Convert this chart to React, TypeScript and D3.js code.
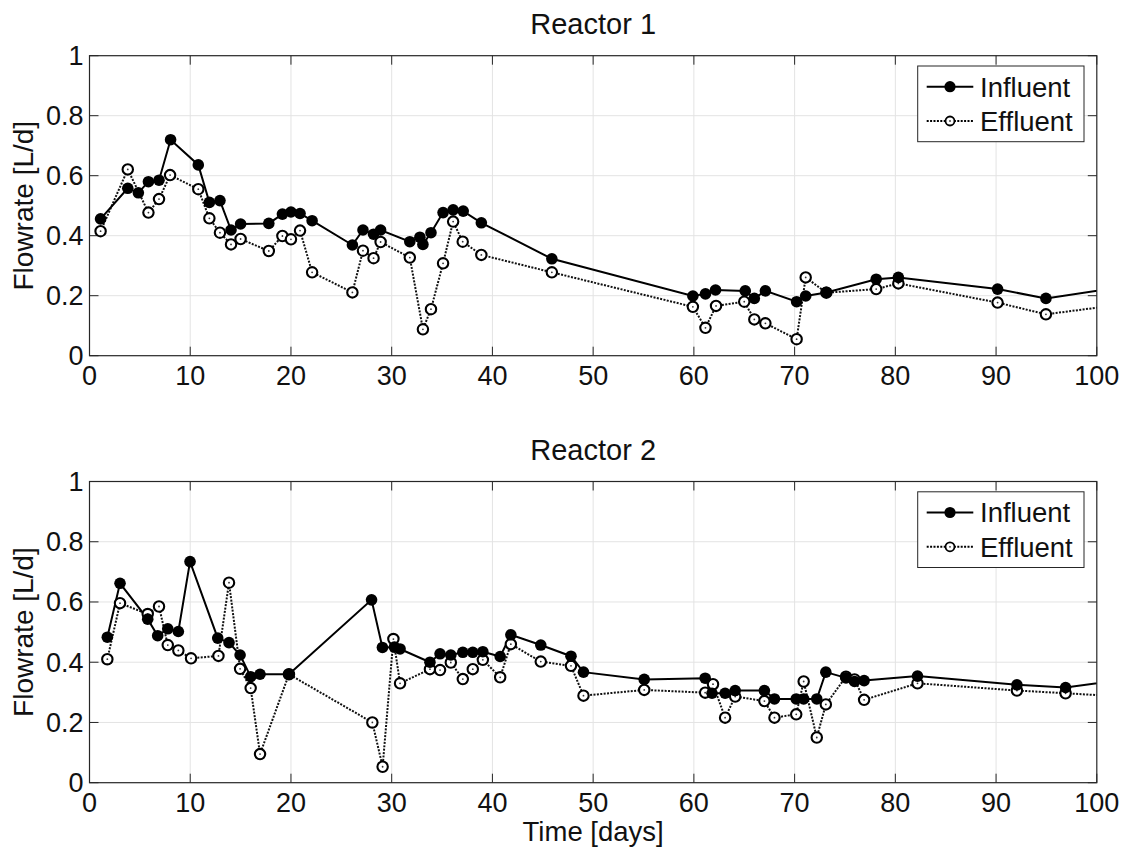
import * as d3 from 'd3';

// Reactor 1
const r1InfX = [1.1, 3.8, 4.85, 5.85, 6.9, 8.05, 10.8, 11.9, 12.95, 14.05, 15.0, 17.8, 19.15, 20.0, 20.9, 22.1, 26.1, 27.15, 28.2, 28.9, 31.8, 32.8, 33.1, 33.9, 35.1, 36.1, 37.1, 38.9, 45.9, 59.9, 61.15, 62.15, 65.1, 66.0, 67.1, 70.2, 71.1, 73.15, 78.1, 80.3, 90.15, 94.95, 103];
const r1InfY = [0.456, 0.558, 0.543, 0.58, 0.585, 0.72, 0.636, 0.511, 0.517, 0.419, 0.439, 0.441, 0.472, 0.479, 0.474, 0.45, 0.369, 0.419, 0.405, 0.419, 0.38, 0.395, 0.371, 0.41, 0.477, 0.486, 0.482, 0.443, 0.323, 0.199, 0.206, 0.219, 0.216, 0.191, 0.216, 0.18, 0.199, 0.211, 0.255, 0.261, 0.222, 0.191, 0.232];
const r1EffX = [1.1, 3.8, 5.85, 6.9, 8.0, 10.8, 11.9, 12.95, 14.05, 15.0, 17.8, 19.15, 20.0, 20.9, 22.1, 26.1, 27.15, 28.2, 28.9, 31.8, 33.1, 33.9, 35.1, 36.1, 37.05, 38.9, 45.9, 59.9, 61.15, 62.2, 65.0, 66.0, 67.1, 70.2, 71.1, 73.15, 78.1, 80.3, 90.15, 94.95, 103];
const r1EffY = [0.415, 0.621, 0.477, 0.522, 0.602, 0.555, 0.458, 0.41, 0.371, 0.389, 0.349, 0.399, 0.388, 0.417, 0.278, 0.211, 0.35, 0.325, 0.379, 0.327, 0.088, 0.155, 0.308, 0.447, 0.38, 0.336, 0.278, 0.163, 0.093, 0.166, 0.18, 0.121, 0.108, 0.055, 0.261, 0.21, 0.222, 0.241, 0.177, 0.138, 0.173];

// Reactor 2
const r2InfX = [1.77, 3.03, 5.78, 6.77, 7.77, 8.82, 9.98, 12.73, 13.85, 14.95, 16.0, 16.93, 19.8, 28.0, 29.08, 30.27, 30.83, 33.8, 34.8, 35.87, 37.06, 38.05, 39.05, 40.77, 41.83, 44.8, 47.8, 49.04, 55.07, 61.12, 61.8, 63.1, 64.1, 67.0, 68.0, 70.16, 70.9, 72.2, 73.1, 75.1, 75.95, 76.9, 82.2, 92.07, 96.9, 103];
const r2InfY = [0.483, 0.662, 0.543, 0.488, 0.511, 0.502, 0.734, 0.48, 0.465, 0.424, 0.352, 0.36, 0.36, 0.607, 0.449, 0.45, 0.444, 0.4, 0.428, 0.424, 0.433, 0.433, 0.435, 0.419, 0.491, 0.457, 0.42, 0.367, 0.343, 0.347, 0.297, 0.297, 0.306, 0.306, 0.278, 0.278, 0.278, 0.278, 0.367, 0.348, 0.336, 0.339, 0.354, 0.325, 0.316, 0.343];
const r2EffX = [1.77, 3.03, 5.78, 6.9, 7.77, 8.82, 10.08, 12.8, 13.85, 14.95, 16.0, 16.93, 19.8, 28.08, 29.1, 30.17, 30.83, 33.8, 34.8, 35.87, 37.06, 38.05, 39.05, 40.77, 41.83, 44.8, 47.8, 49.04, 55.07, 61.12, 61.9, 63.1, 64.1, 67.0, 68.0, 70.16, 70.9, 72.2, 73.1, 75.1, 75.95, 76.9, 82.2, 92.07, 96.9, 103];
const r2EffY = [0.41, 0.596, 0.56, 0.585, 0.457, 0.439, 0.413, 0.421, 0.664, 0.378, 0.314, 0.095, 0.36, 0.2, 0.053, 0.477, 0.33, 0.377, 0.374, 0.399, 0.344, 0.377, 0.408, 0.35, 0.46, 0.402, 0.388, 0.289, 0.308, 0.299, 0.327, 0.216, 0.286, 0.271, 0.216, 0.227, 0.336, 0.15, 0.26, 0.352, 0.343, 0.275, 0.33, 0.306, 0.297, 0.285];

const xTicks = [0, 10, 20, 30, 40, 50, 60, 70, 80, 90, 100];
const yTicks = [0, 0.2, 0.4, 0.6, 0.8, 1];
const legendLabels = ['Influent', 'Effluent'];

const FONT = '"Liberation Sans", Arial, Helvetica, sans-serif';
const AXIS = '#262626';
const GRID = '#e3e3e3';
const LEFT = 89.5;
const RIGHT = 1096.8;

type Pt = [number, number];
const zip = (xs: number[], ys: number[]): Pt[] => xs.map((x, i) => [x, ys[i]]);

function Panel({ id, title, top, bottom, inf, eff, xLabel }: {
  id: string; title: string; top: number; bottom: number; inf: Pt[]; eff: Pt[]; xLabel?: string;
}) {
  const x = d3.scaleLinear().domain([0, 100]).range([LEFT, RIGHT]);
  const y = d3.scaleLinear().domain([0, 1]).range([bottom, top]);
  const line = d3.line<Pt>().x(d => x(d[0])).y(d => y(d[1]));
  const tick = 9;
  const lgX = 917.7, lgY = top + 10.3;

  return (
    <g>
      <defs>
        <clipPath id={id}>
          <rect x={LEFT} y={top} width={RIGHT - LEFT} height={bottom - top} />
        </clipPath>
      </defs>
      <rect x={LEFT} y={top} width={RIGHT - LEFT} height={bottom - top} fill="white" />
      {xTicks.slice(1, -1).map(t => (
        <line key={'gx' + t} x1={x(t)} x2={x(t)} y1={top} y2={bottom} stroke={GRID} strokeWidth={1} />
      ))}
      {yTicks.slice(1, -1).map(t => (
        <line key={'gy' + t} x1={LEFT} x2={RIGHT} y1={y(t)} y2={y(t)} stroke={GRID} strokeWidth={1} />
      ))}
      {xTicks.map(t => (
        <g key={'tx' + t}>
          <line x1={x(t)} x2={x(t)} y1={bottom} y2={bottom - tick} stroke={AXIS} />
          <line x1={x(t)} x2={x(t)} y1={top} y2={top + tick} stroke={AXIS} />
          <text x={x(t)} y={bottom + 29} textAnchor="middle" fontSize={27} fill="#111">{t}</text>
        </g>
      ))}
      {yTicks.map(t => (
        <g key={'ty' + t}>
          <line x1={LEFT} x2={LEFT + tick} y1={y(t)} y2={y(t)} stroke={AXIS} />
          <line x1={RIGHT} x2={RIGHT - tick} y1={y(t)} y2={y(t)} stroke={AXIS} />
          <text x={LEFT - 6} y={y(t)} dy="0.35em" textAnchor="end" fontSize={27} fill="#111">{t}</text>
        </g>
      ))}
      <g clipPath={`url(#${id})`}>
        <path d={line(eff) ?? ''} fill="none" stroke="#111" strokeWidth={2} strokeDasharray="2 1.4" />
        <path d={line(inf) ?? ''} fill="none" stroke="#000" strokeWidth={2} />
        {eff.map((d, i) => (
          <g key={'e' + i}>
            <circle cx={x(d[0])} cy={y(d[1])} r={5.2} fill="white" stroke="#000" strokeWidth={2.1} />
            <circle cx={x(d[0])} cy={y(d[1])} r={0.9} fill="#333" />
          </g>
        ))}
        {inf.map((d, i) => (
          <circle key={'i' + i} cx={x(d[0])} cy={y(d[1])} r={5.8} fill="#000" />
        ))}
      </g>
      <rect x={LEFT} y={top} width={RIGHT - LEFT} height={bottom - top} fill="none" stroke={AXIS} strokeWidth={1.2} />
      <text x={(LEFT + RIGHT) / 2} y={top - 22} textAnchor="middle" fontSize={29} fill="#111">{title}</text>
      <text transform={`translate(33,${(top + bottom) / 2}) rotate(-90)`} textAnchor="middle" fontSize={28} fill="#111">Flowrate [L/d]</text>
      {xLabel && (
        <text x={(LEFT + RIGHT) / 2} y={bottom + 58} textAnchor="middle" fontSize={27.5} fill="#111">{xLabel}</text>
      )}
      <g>
        <rect x={lgX} y={lgY} width={166.3} height={75.7} fill="white" stroke={AXIS} strokeWidth={1} />
        {legendLabels.map((lab, i) => {
          const cy = lgY + 20.7 + i * 34.3;
          return (
            <g key={lab}>
              <line x1={926.7} x2={973.3} y1={cy} y2={cy} stroke="#000" strokeWidth={2}
                strokeDasharray={i === 1 ? '2 1.4' : undefined} />
              {i === 0 ? (
                <circle cx={950} cy={cy} r={5.6} fill="#000" />
              ) : (
                <g>
                  <circle cx={950} cy={cy} r={4.5} fill="white" stroke="#000" strokeWidth={1.8} />
                  <circle cx={950} cy={cy} r={0.9} fill="#333" />
                </g>
              )}
              <text x={980} y={cy} dy="0.36em" fontSize={27.5} fill="#111">{lab}</text>
            </g>
          );
        })}
      </g>
    </g>
  );
}

export default function App() {
  return (
    <svg width={1131} height={855} style={{ position: 'absolute', left: 0, top: 0, background: 'white' }}
      fontFamily={FONT}>
      <rect width={1131} height={855} fill="white" />
      <Panel id="clip1" title="Reactor 1" top={55.7} bottom={355.7} inf={zip(r1InfX, r1InfY)} eff={zip(r1EffX, r1EffY)} />
      <Panel id="clip2" title="Reactor 2" top={481.5} bottom={782.7} inf={zip(r2InfX, r2InfY)} eff={zip(r2EffX, r2EffY)} xLabel="Time [days]" />
    </svg>
  );
}
